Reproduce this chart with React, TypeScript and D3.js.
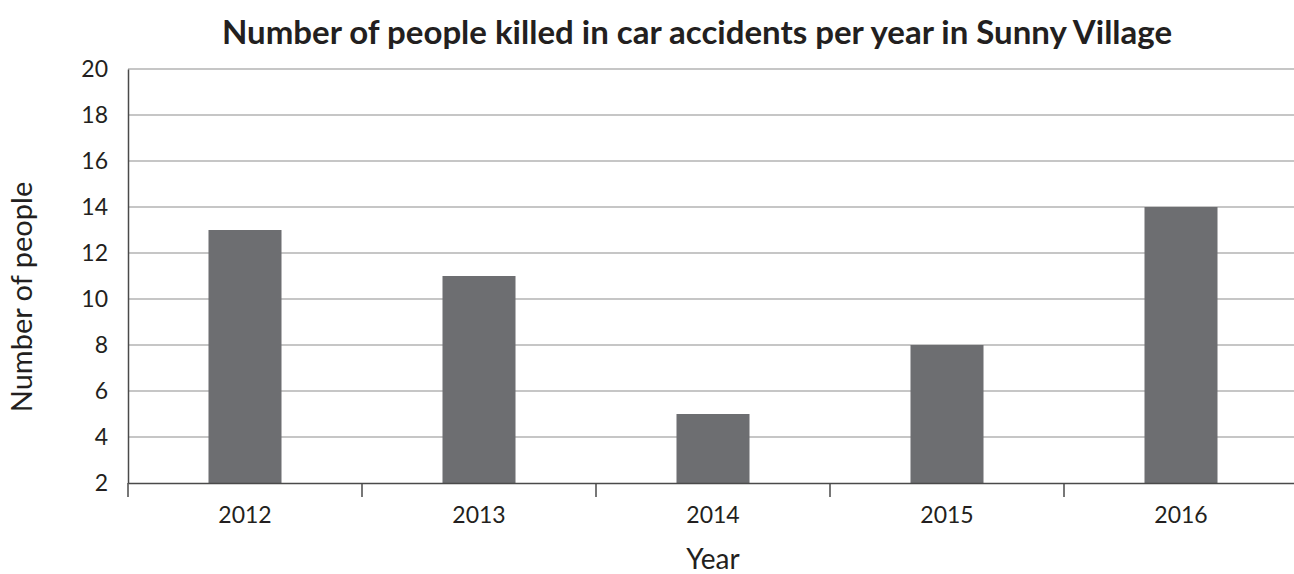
import { useEffect, useRef } from 'react'
import * as d3 from 'd3'

const years = ['2012', '2013', '2014', '2015', '2016']
const killed = [13, 11, 5, 8, 14]
const yTicks = [2, 4, 6, 8, 10, 12, 14, 16, 18, 20]

const title = 'Number of people killed in car accidents per year in Sunny Village'
const yLabel = 'Number of people'
const xLabel = 'Year'

export default function App() {
  const svgRef = useRef<SVGSVGElement>(null)

  useEffect(() => {
    if (!svgRef.current) return
    const width = 1294
    const height = 574
    const margin = { top: 69, right: -4, bottom: 91, left: 128 }
    const font = 'Lato, "Open Sans", sans-serif'

    const svg = d3.select(svgRef.current)
    svg.selectAll('*').remove()
    svg.attr('width', width).attr('height', height)

    const x = d3
      .scaleBand()
      .domain(years)
      .range([margin.left, width - margin.right])
      .padding(0)

    const y = d3
      .scaleLinear()
      .domain([2, 20])
      .range([height - margin.bottom, margin.top])

    // gridlines
    svg
      .append('g')
      .selectAll('line')
      .data(yTicks.filter(t => t !== 2))
      .enter()
      .append('line')
      .attr('x1', margin.left)
      .attr('x2', width - margin.right)
      .attr('y1', d => y(d))
      .attr('y2', d => y(d))
      .attr('stroke', '#b3b3b3')
      .attr('stroke-width', 1.5)

    // bars
    const barW = x.bandwidth() * 0.312
    svg
      .append('g')
      .selectAll('rect')
      .data(killed)
      .enter()
      .append('rect')
      .attr('x', (_, i) => (x(years[i]) || 0) + x.bandwidth() / 2 - barW / 2)
      .attr('y', d => y(d))
      .attr('width', barW)
      .attr('height', d => y(2) - y(d))
      .attr('fill', '#6d6e71')

    // x axis
    const xAxis = svg
      .append('g')
      .attr('transform', `translate(0,${y(2)})`)
      .call(d3.axisBottom(x).tickSize(0).tickPadding(24))
    xAxis.select('.domain').attr('stroke', '#4a4a4a').attr('stroke-width', 1.5)
    xAxis
      .selectAll('text')
      .style('font-family', font)
      .style('font-size', '23px')
      .attr('fill', '#231f20')

    // category separators
    svg
      .append('g')
      .selectAll('line')
      .data(years)
      .enter()
      .append('line')
      .attr('x1', d => x(d) || 0)
      .attr('x2', d => x(d) || 0)
      .attr('y1', y(2))
      .attr('y2', y(2) + 14)
      .attr('stroke', '#4a4a4a')
      .attr('stroke-width', 1.5)

    // y axis
    const yAxis = svg
      .append('g')
      .attr('transform', `translate(${margin.left},0)`)
      .call(d3.axisLeft(y).tickValues(yTicks).tickSize(0).tickPadding(20).tickFormat(d3.format('d')))
    yAxis.select('.domain').attr('stroke', '#4a4a4a').attr('stroke-width', 1.5)
    yAxis
      .selectAll('text')
      .style('font-family', font)
      .style('font-size', '23px')
      .attr('fill', '#231f20')

    // title
    svg
      .append('text')
      .attr('x', 697)
      .attr('y', 44)
      .attr('text-anchor', 'middle')
      .style('font-family', font)
      .style('font-size', '33px')
      .style('font-weight', 'bold')
      .attr('fill', '#231f20')
      .text(title)

    // axis titles
    svg
      .append('text')
      .attr('transform', `translate(32,297) rotate(-90)`)
      .attr('text-anchor', 'middle')
      .style('font-family', font)
      .style('font-size', '29px')
      .attr('fill', '#231f20')
      .text(yLabel)

    svg
      .append('text')
      .attr('x', 713)
      .attr('y', 569)
      .attr('text-anchor', 'middle')
      .style('font-family', font)
      .style('font-size', '28px')
      .attr('fill', '#231f20')
      .text(xLabel)
  }, [])

  return (
    <div style={{ position: 'absolute', left: 0, top: 0 }}>
      <svg ref={svgRef} style={{ display: 'block' }}></svg>
    </div>
  )
}
